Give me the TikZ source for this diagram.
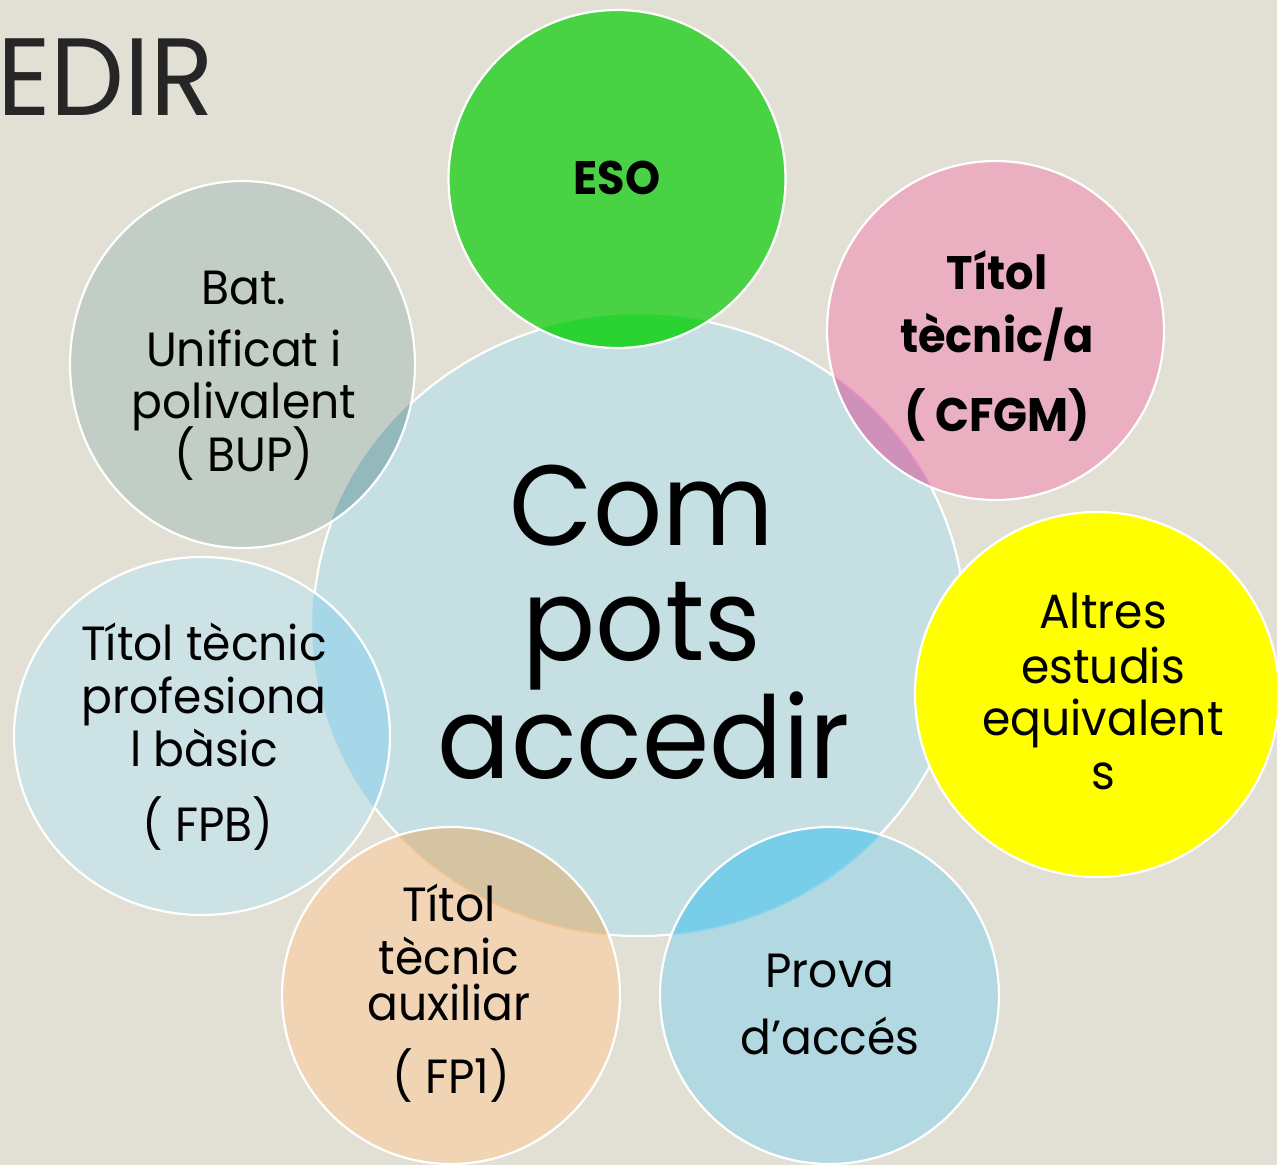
\documentclass[tikz,border=0pt]{standalone}
\usepackage{fontspec}
\setmainfont{Poppins}[FakeStretch=0.95]
\definecolor{bg}{HTML}{E2DFD4}
\definecolor{bigc}{HTML}{C5DFE2}
\definecolor{esoc}{HTML}{48D244}
\definecolor{esoov}{HTML}{2AD232}
\definecolor{titc}{HTML}{EAB0C2}
\definecolor{titov}{HTML}{CF90BA}
\definecolor{titln}{HTML}{EE8CC4}
\definecolor{yelc}{HTML}{FFFF00}
\definecolor{proc}{HTML}{B2D9E1}
\definecolor{proov}{HTML}{78CDE8}
\definecolor{proln}{HTML}{88D4F0}
\definecolor{fpac}{HTML}{F0D4B4}
\definecolor{fpaov}{HTML}{D4C4A2}
\definecolor{fpaln}{HTML}{F8C490}
\definecolor{fpbc}{HTML}{CDE2E5}
\definecolor{fpbov}{HTML}{A5D7E8}
\definecolor{bupc}{HTML}{C2CDC6}
\definecolor{bupov}{HTML}{94B9BC}
\definecolor{titlec}{HTML}{262626}
\tikzset{
 shBig/.style={insert path={(639,625.5) ellipse (326 and 310.5)}},
 shESO/.style={insert path={(617,179) ellipse (168.5 and 169)}},
 shTit/.style={insert path={(995.5,330.5) ellipse (168.5 and 169.5)}},
 shAlt/.style={insert path={(1097,694.5) ellipse (182 and 182.5)}},
 shPro/.style={insert path={(829.5,995.5) ellipse (169.5 and 168.5)}},
 shFPA/.style={insert path={(451,995.5) ellipse (169 and 168.5)}},
 shFPB/.style={insert path={(202,736) ellipse (188 and 179)}},
 shBUP/.style={insert path={(242.5,364.5) ellipse (172.5 and 183.5)}},
 rim/.style={draw=white, line width=2.2pt},
 txt/.style={anchor=base, inner sep=0pt, text=black, font=\fontsize{48}{50}\selectfont},
 btxt/.style={anchor=base, inner sep=0pt, text=black, font=\fontsize{47}{50}\selectfont\bfseries},
 bigtxt/.style={anchor=base, inner sep=0pt, text=black, font=\fontsize{114}{117}\selectfont},
}
\newcommand\outercirc[4]{%
 \fill[#2,#1];
 \begin{scope}\clip[shBig]; \fill[#3,#1]; \end{scope}
 \begin{scope}\clip[#1]; \draw[#4, line width=1.5pt, shBig]; \end{scope}
 \draw[rim,#1];
}
\begin{document}
\begin{tikzpicture}[x=1pt,y=-1pt]
\useasboundingbox (0,0) rectangle (1277,1165);
\clip (0,0) rectangle (1277,1165);
\fill[bg] (0,0) rectangle (1277,1165);
% title fragment
\node[anchor=base east, inner sep=0pt, text=titlec, font=\fontsize{110}{110}\selectfont] (title) at (214,115) {EDIR};
% central circle
\fill[bigc, shBig];
\draw[rim, shBig];
% outer circles
\outercirc{shESO}{esoc}{esoov}{esoov}
\outercirc{shTit}{titc}{titov}{titln}
\outercirc{shPro}{proc}{proov}{proln}
\outercirc{shFPA}{fpac}{fpaov}{fpaln}
\outercirc{shFPB}{fpbc}{fpbov}{fpbov}
\outercirc{shBUP}{bupc}{bupov}{bupov}
\fill[yelc, shAlt];
\draw[rim, shAlt];
% central text
\node[bigtxt] (c1) at (642,545) {Com};
\node[bigtxt] (c2) at (642,660) {pots};
\node[bigtxt] (c3) at (644,778) {accedir};
% ESO
\node[btxt] (eso) at (617,194) {ESO};
% Titol tecnic/a
\node[btxt] (t1) at (997,289) {Títol};
\node[btxt] (t2) at (997,352) {tècnic/a};
\node[btxt] (t3) at (997,431) {( CFGM)};
% Altres
\node[txt] (a1) at (1103,628) {Altres};
\node[txt] (a2) at (1103,683) {estudis};
\node[txt] (a3) at (1103,735) {equivalent};
\node[txt] (a4) at (1103,789) {s};
% Prova
\node[txt] (p1) at (830,987) {Prova};
\node[txt] (p2) at (830,1054) {d’accés};
% FP1
\node[txt] (f1) at (449,921) {Títol};
\node[txt] (f2) at (449,974) {tècnic};
\node[txt] (f3) at (449,1020) {auxiliar};
\node[txt] (f4) at (451,1093) {( FP1)};
% FPB
\node[txt] (b1) at (204,660) {Títol tècnic};
\node[txt] (b2) at (204,713) {profesiona};
\node[txt] (b3) at (204,766) {l bàsic};
\node[txt] (b4) at (208,841) {( FPB)};
% BUP
\node[txt] (u1) at (244,304) {Bat.};
\node[txt] (u2) at (244,366) {Unificat i};
\node[txt] (u3) at (244,418) {polivalent};
\node[txt] (u4) at (244,471) {( BUP)};
\end{tikzpicture}
\end{document}
